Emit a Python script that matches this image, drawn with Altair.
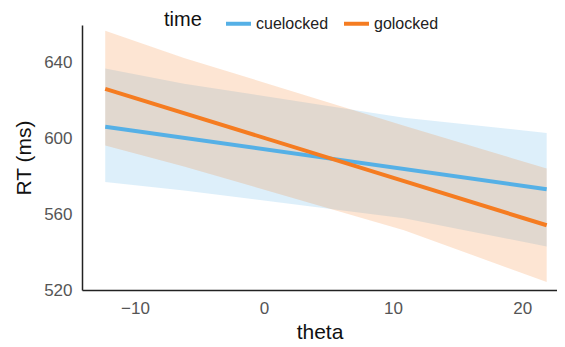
import altair as alt
import pandas as pd

# Fitted regression lines (endpoints of data range)
line_theta = [-12.3, 21.9]
cue_line = [606.3, 573.2]
go_line = [626.3, 554.2]

# Confidence band edges read at several theta values
band_theta = [-12.3, -6.2, 10.85, 21.9]
cue_lo = [577.0, 572.6, 557.9, 543.0]
cue_hi = [637.0, 629.0, 611.0, 603.0]
go_lo = [596.3, 585.3, 551.6, 524.2]
go_hi = [657.0, 642.6, 606.8, 584.2]

series = ["cuelocked", "golocked"]
colors = ["#55B0E6", "#F57C21"]

lines = pd.DataFrame({
    "theta": line_theta * 2,
    "RT": cue_line + go_line,
    "time": [series[0]] * 2 + [series[1]] * 2,
})
bands = pd.DataFrame({
    "theta": band_theta * 2,
    "lo": cue_lo + go_lo,
    "hi": cue_hi + go_hi,
    "time": [series[0]] * len(band_theta) + [series[1]] * len(band_theta),
    "ord": [0] * len(band_theta) + [1] * len(band_theta),
})

xscale = alt.Scale(domain=[-14.1, 22.7], nice=False, zero=False)
yscale = alt.Scale(domain=[520, 660], nice=False, zero=False)
cscale = alt.Scale(domain=series, range=colors)

xaxis = alt.Axis(values=[-10, 0, 10, 20], title="theta", labelPadding=10, titlePadding=5)
yaxis = alt.Axis(values=[520, 560, 600, 640], title="RT (ms)", labelPadding=10, titlePadding=9)

band_layer = alt.Chart(bands).mark_area(opacity=0.2).encode(
    x=alt.X("theta:Q", scale=xscale, axis=xaxis),
    y=alt.Y("lo:Q", scale=yscale, axis=yaxis),
    y2="hi:Q",
    color=alt.Color("time:N", scale=cscale, legend=None),
    order="ord:Q",
)

line_layer = alt.Chart(lines).mark_line(strokeWidth=4).encode(
    x=alt.X("theta:Q", scale=xscale),
    y=alt.Y("RT:Q", scale=yscale),
    color=alt.Color(
        "time:N",
        scale=cscale,
        legend=alt.Legend(
            title="time",
            orient="none",
            legendX=82,
            legendY=-16,
            direction="horizontal",
            titleOrient="left",
            symbolType="stroke",
            symbolSize=625,
            symbolStrokeWidth=4,
            symbolOpacity=1,
            labelFontSize=16,
            titleFontSize=20,
            titleFontWeight="normal",
            titleColor="#111",
            labelColor="#222",
            titlePadding=22,
            columnPadding=7,
            labelOffset=3,
            padding=0,
        ),
    ),
)

chart = alt.layer(band_layer, line_layer).resolve_legend(
    color="independent"
).properties(
    width=475,
    height=265,
    autosize=alt.AutoSizeParams(type="none"),
    padding={"left": 74, "top": 17, "right": 0, "bottom": 55},
).configure(
    font="Liberation Sans",
).configure_view(
    stroke=None,
).configure_axis(
    grid=False,
    ticks=False,
    domainColor="#222",
    domainWidth=1.5,
    labelColor="#555",
    labelFontSize=17,
    titleFontSize=21,
    titleFontWeight="normal",
    titleColor="#111",
)

chart.save("out.html", embed_options={"renderer": "svg", "actions": False})
